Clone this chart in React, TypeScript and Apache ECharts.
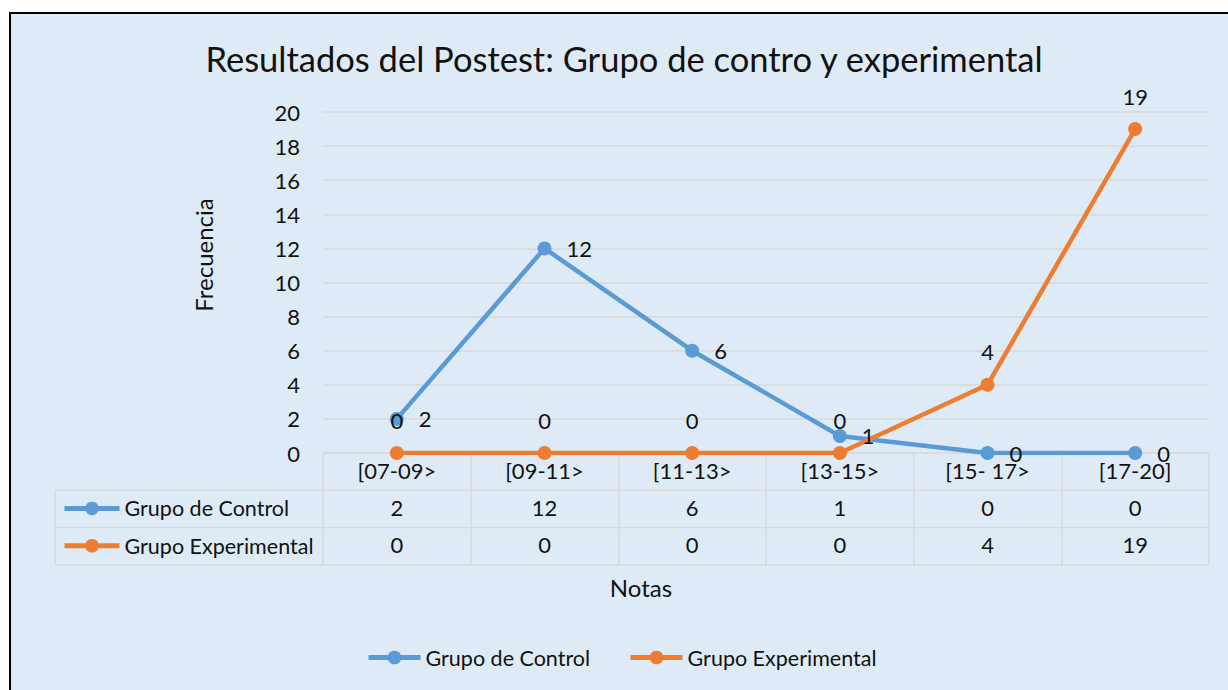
import React, { useEffect, useRef } from "react";
import * as echarts from "echarts";

const titleText = "Resultados del Postest: Grupo de contro y experimental";
const yAxisTitle = "Frecuencia";
const xAxisTitle = "Notas";
const categories = ["[07-09>", "[09-11>", "[11-13>", "[13-15>", "[15- 17>", "[17-20]"];
const controlName = "Grupo de Control";
const experimentalName = "Grupo Experimental";
const control = [2, 12, 6, 1, 0, 0];
const experimental = [0, 0, 0, 0, 4, 19];
const yMin = 0;
const yMax = 20;
const yInterval = 2;

const FONT = "Lato";
const BLUE = "#5B9BD5";
const ORANGE = "#ED7D31";
const GRID = "#D9D9D9";
const BG = "#DEEBF7";
const TXT = "#111111";
const FS = 22;

export default function App() {
  const ref = useRef<HTMLDivElement>(null);
  useEffect(() => {
    if (!ref.current) return;
    const chart = echarts.init(ref.current, null, { renderer: "svg" });
    const gl = 323, gr = 1209, gt = 112, gb = 453;
    const rowH = 37.3;
    const tableLeft = 55;
    const lineEl = (x1: number, y1: number, x2: number, y2: number) => ({
      type: "line",
      shape: { x1, y1, x2, y2 },
      style: { stroke: GRID, lineWidth: 1.5 },
      z: 1,
    });
    const option: any = {
      animation: false,
      backgroundColor: "#FFFFFF",
      textStyle: { fontFamily: FONT },
      grid: { left: gl, right: 1228 - gr, top: gt, bottom: 690 - gb, containLabel: false },
      graphic: [
        {
          type: "rect",
          shape: { x: 10, y: 13, width: 1300, height: 800 },
          style: { fill: BG, stroke: "#000", lineWidth: 2 },
          z: -10,
          silent: true,
        },
        {
          type: "text",
          x: 624,
          y: 58,
          style: { text: titleText, fontSize: 34.5, fontFamily: FONT, fill: TXT, textAlign: "center", textVerticalAlign: "middle" },
        },
        {
          type: "text",
          x: 203,
          y: 255,
          rotation: Math.PI / 2,
          style: { text: yAxisTitle, fontSize: 24, fontFamily: FONT, fill: TXT, textAlign: "center", textVerticalAlign: "middle" },
        },
        {
          type: "text",
          x: 641,
          y: 587,
          style: { text: xAxisTitle, fontSize: 24, fontFamily: FONT, fill: TXT, textAlign: "center", textVerticalAlign: "middle" },
        },
        lineEl(tableLeft, gb + rowH, gr, gb + rowH),
        lineEl(tableLeft, gb + rowH * 2, gr, gb + rowH * 2),
        lineEl(tableLeft, gb + rowH * 3, gr, gb + rowH * 3),
        lineEl(tableLeft, gb + rowH, tableLeft, gb + rowH * 3),
      ],
      legend: [
        {
          orient: "vertical",
          left: 62,
          top: gb + rowH * 1.5 - 12.5,
          padding: 0,
          itemWidth: 55,
          itemHeight: 17,
          itemGap: rowH - 24,
          lineStyle: { width: 5 },
          textStyle: { fontSize: 21.5, fontFamily: FONT, color: TXT, lineHeight: 24 },
          data: [controlName, experimentalName],
        },
        {
          orient: "horizontal",
          left: 366,
          top: 658 - 12.5,
          padding: 0,
          itemWidth: 52,
          itemHeight: 17,
          itemGap: 38,
          lineStyle: { width: 5 },
          textStyle: { fontSize: 21.5, fontFamily: FONT, color: TXT, lineHeight: 24 },
          data: [controlName, experimentalName],
        },
      ],
      xAxis: [
        {
          type: "category",
          data: categories,
          boundaryGap: true,
          axisLine: { show: true, lineStyle: { color: GRID, width: 1.5 } },
          axisTick: { show: true, alignWithLabel: false, length: rowH * 3, lineStyle: { color: GRID, width: 1.5 } },
          axisLabel: { fontSize: FS, color: TXT, margin: 6, fontFamily: FONT },
        },
        {
          type: "category",
          data: control.map(String),
          position: "bottom",
          offset: rowH,
          axisLine: { show: false },
          axisTick: { show: false },
          axisLabel: { fontSize: FS, color: TXT, margin: 6, fontFamily: FONT },
        },
        {
          type: "category",
          data: experimental.map(String),
          position: "bottom",
          offset: rowH * 2,
          axisLine: { show: false },
          axisTick: { show: false },
          axisLabel: { fontSize: FS, color: TXT, margin: 6, fontFamily: FONT },
        },
      ],
      yAxis: {
        type: "value",
        min: yMin,
        max: yMax,
        interval: yInterval,
        axisLine: { show: false },
        axisTick: { show: false },
        splitLine: { lineStyle: { color: GRID, width: 1.5 } },
        axisLabel: { fontSize: FS, color: TXT, margin: 23, fontFamily: FONT },
      },
      series: [
        {
          name: controlName,
          type: "line",
          data: control,
          xAxisIndex: 0,
          color: BLUE,
          lineStyle: { width: 4.5, color: BLUE },
          itemStyle: { color: BLUE },
          symbol: "circle",
          symbolSize: 14,
          label: { show: true, position: "right", distance: 15, fontSize: FS, color: TXT, fontFamily: FONT },
        },
        {
          name: experimentalName,
          type: "line",
          data: experimental,
          xAxisIndex: 0,
          color: ORANGE,
          lineStyle: { width: 4.5, color: ORANGE },
          itemStyle: { color: ORANGE },
          symbol: "circle",
          symbolSize: 14,
          label: { show: true, position: "top", distance: 15, fontSize: FS, color: TXT, fontFamily: FONT },
        },
      ],
    };
    chart.setOption(option);
    return () => chart.dispose();
  }, []);
  return <div ref={ref} style={{ position: "absolute", left: 0, top: 0, width: 1228, height: 690 }} />;
}
